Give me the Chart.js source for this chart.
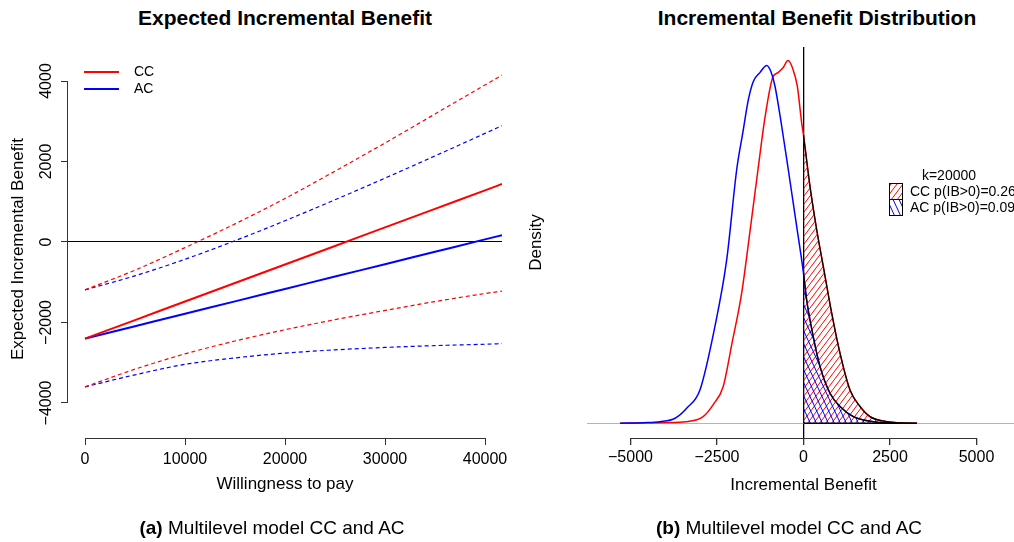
<!DOCTYPE html>
<html>
<head>
<meta charset="utf-8">
<script src="https://cdn.jsdelivr.net/npm/chart.js@4.4.1/dist/chart.umd.min.js"></script>
<style>
  body { margin: 0; width: 1014px; height: 542px; overflow: hidden; background: #fff;
         position: relative; font-family: "Liberation Sans", Arial, Helvetica, sans-serif; }
  canvas { position: absolute; top: 0; }
  #left { left: 0; }
  #right { left: 507px; }
  .title { position: absolute; top: 6px; font-weight: bold; font-size: 21px; white-space: nowrap; transform: translateX(-50%); }
  .cap { position: absolute; top: 517px; font-size: 19px; white-space: nowrap; transform: translateX(-50%); }
</style>
</head>
<body>
<div class="title" style="left:285px">Expected Incremental Benefit</div>
<div class="title" style="left:817px">Incremental Benefit Distribution</div>
<canvas id="left" width="507" height="542"></canvas>
<canvas id="right" width="513" height="542"></canvas>
<div class="cap" style="left:272px"><b>(a)</b> Multilevel model CC and AC</div>
<div class="cap" style="left:789px"><b>(b)</b> Multilevel model CC and AC</div>

<script>
// (a) expected incremental benefit against willingness to pay
const wtp     = [0, 5000, 10000, 15000, 20000, 25000, 30000, 35000, 40000, 41700];
const ccMean  = [-2400, -1940, -1479, -1019, -558, -98, 363, 823, 1284, 1440];
const ccUpper = [-1190, -700, -140, 450, 1080, 1760, 2460, 3180, 3900, 4149];
const ccLower = [-3600, -3160, -2780, -2460, -2180, -1930, -1700, -1480, -1280, -1220];
const acMean  = [-2400, -2092, -1784, -1475, -1167, -859, -551, -243, 65, 170];
const acUpper = [-1190, -840, -429, 32, 528, 1049, 1587, 2138, 2698, 2890];
const acLower = [-3600, -3300, -3040, -2880, -2760, -2680, -2620, -2575, -2540, -2526];
const wtpTicks = [0, 10000, 20000, 30000, 40000];
const eibTicks = [-4000, -2000, 0, 2000, 4000];

// (b) density of the incremental benefit at k = 20000 (density x 1e-4)
const ccIB      = [-5300, -4500, -4000, -3400, -2900, -2600, -2320, -2066, -1786, -1546, -1315, -1113, -890, -737, -592, -448, -303, -179, -52, 0, 188, 381, 572, 815, 1055, 1344, 1633, 1922, 2404, 2800, 3280];
const ccDensity = [0, 0.005, 0.01, 0.02, 0.083, 0.24, 0.46, 1.0, 1.63, 2.40, 3.17, 3.82, 4.32, 4.38, 4.44, 4.53, 4.42, 4.21, 3.75, 3.60, 2.96, 2.42, 1.96, 1.375, 0.875, 0.416, 0.21, 0.083, 0.02, 0.005, 0];
const acIB      = [-5300, -4630, -4150, -3710, -3370, -2990, -2560, -2220, -1930, -1750, -1595, -1450, -1260, -1064, -940, -824, -630, -440, -197, 0, 92, 283, 477, 766, 1055, 1440, 2010, 2590];
const acDensity = [0, 0.008, 0.02, 0.063, 0.19, 0.42, 1.21, 2.04, 3.17, 3.64, 4.04, 4.27, 4.38, 4.47, 4.39, 4.21, 3.71, 3.17, 2.46, 1.875, 1.54, 1.08, 0.71, 0.375, 0.21, 0.083, 0.02, 0];
const ibTicks = [-5000, -2500, 0, 2500, 5000];
const groups = ['CC', 'AC'];
const probPositive = [0.26, 0.09];
const kShown = 20000;

Chart.defaults.font.family = '"Liberation Sans", Arial, Helvetica, sans-serif';
Chart.defaults.color = '#000';

const fmt = v => (v < 0 ? '\u2212' + Math.abs(v) : String(v));
const pts = (xs, ys) => xs.map((x, i) => ({ x: x, y: ys[i] }));
const setTicks = vals => scale => { scale.ticks = vals.map(v => ({ value: v })); };

// hatch pattern, dir 1 = "/", -1 = "\"
function hatch(color, w, h, dir) {
  const c = document.createElement('canvas');
  c.width = w; c.height = h;
  const g = c.getContext('2d');
  g.strokeStyle = color; g.lineWidth = 1;
  for (const dx of [-w, 0, w]) {
    g.beginPath();
    if (dir > 0) { g.moveTo(dx - w, 2 * h); g.lineTo(dx + 2 * w, -h); }
    else { g.moveTo(dx - w, -h); g.lineTo(dx + 2 * w, 2 * h); }
    g.stroke();
  }
  return g.createPattern(c, 'repeat');
}
const redHatch = hatch('#ff0000', 6, 8, 1);
const blueHatch = hatch('#0000ff', 6, 13, -1);

// R style axis line, only between first and last tick
const rAxis = {
  id: 'rAxis',
  afterDraw(chart, args, opts) {
    const ctx = chart.ctx;
    ctx.save();
    ctx.strokeStyle = '#333'; ctx.lineWidth = 1;
    (opts.axes || []).forEach(id => {
      const s = chart.scales[id];
      const a = s.getPixelForValue(s.ticks[0].value);
      const b = s.getPixelForValue(s.ticks[s.ticks.length - 1].value);
      ctx.beginPath();
      if (s.isHorizontal()) { ctx.moveTo(a, Math.round(s.top) + 0.5); ctx.lineTo(b, Math.round(s.top) + 0.5); }
      else { ctx.moveTo(Math.round(s.right) - 0.5, a); ctx.lineTo(Math.round(s.right) - 0.5, b); }
      ctx.stroke();
    });
    ctx.restore();
  }
};

// left chart: vertical tick labels and line legend
const leftExtras = {
  id: 'leftExtras',
  afterDraw(chart) {
    const ctx = chart.ctx;
    const y = chart.scales.y;
    ctx.save();
    ctx.fillStyle = '#000';
    ctx.font = '16px "Liberation Sans", Arial, sans-serif';
    ctx.textAlign = 'center';
    ctx.textBaseline = 'middle';
    y.ticks.forEach(t => {
      ctx.save();
      ctx.translate(46.5, y.getPixelForValue(t.value));
      ctx.rotate(-Math.PI / 2);
      ctx.fillText(fmt(t.value), 0, 0);
      ctx.restore();
    });
    const cols = ['#ff0000', '#0000ff'];
    ctx.font = '14px "Liberation Sans", Arial, sans-serif';
    ctx.textAlign = 'left';
    groups.forEach((g, i) => {
      const ly = 72 + i * 17;
      ctx.strokeStyle = cols[i]; ctx.lineWidth = 2;
      ctx.beginPath(); ctx.moveTo(84, ly); ctx.lineTo(119, ly); ctx.stroke();
      ctx.fillText(g, 134, ly);
    });
    ctx.restore();
  }
};

// right chart: hatched legend
const rightLegend = {
  id: 'rightLegend',
  afterDraw(chart) {
    const ctx = chart.ctx;
    ctx.save();
    ctx.font = '14px "Liberation Sans", Arial, sans-serif';
    ctx.fillStyle = '#000';
    ctx.textBaseline = 'middle';
    ctx.textAlign = 'center';
    ctx.fillText('k=' + kShown, 442, 176);
    ctx.textAlign = 'left';
    [redHatch, blueHatch].forEach((pat, i) => {
      const by = 183 + i * 16;
      ctx.fillStyle = pat; ctx.fillRect(382, by, 14, 16);
      ctx.strokeStyle = '#000'; ctx.lineWidth = 1; ctx.strokeRect(382.5, by + 0.5, 13, 16);
      ctx.fillStyle = '#000';
      ctx.fillText(groups[i] + ' p(IB>0)=' + probPositive[i].toFixed(2), 403, by + 9);
    });
    ctx.restore();
  }
};

const base = {
  responsive: false, animation: false, events: [],
  elements: { point: { radius: 0 }, line: { cubicInterpolationMode: 'monotone', fill: false } },
};

new Chart(document.getElementById('left'), {
  type: 'line',
  data: {
    datasets: [
      { data: pts(wtp, ccMean), borderColor: '#ff0000', borderWidth: 2 },
      { data: pts(wtp, acMean), borderColor: '#0000ff', borderWidth: 2 },
      { data: pts(wtp, ccUpper), borderColor: '#ff0000', borderWidth: 1.2, borderDash: [4, 3] },
      { data: pts(wtp, ccLower), borderColor: '#ff0000', borderWidth: 1.2, borderDash: [4, 3] },
      { data: pts(wtp, acUpper), borderColor: '#0000ff', borderWidth: 1.2, borderDash: [4, 3] },
      { data: pts(wtp, acLower), borderColor: '#0000ff', borderWidth: 1.2, borderDash: [4, 3] }
    ]
  },
  options: Object.assign({}, base, {
    layout: { padding: { top: 60, right: 5, left: 0, bottom: 0 } },
    plugins: { legend: { display: false }, tooltip: { enabled: false }, rAxis: { axes: ['x', 'y'] } },
    scales: {
      x: {
        type: 'linear', min: -1700, max: 41700,
        afterBuildTicks: setTicks(wtpTicks),
        afterFit: s => { s.height = 104; s.paddingLeft = 0; s.paddingRight = 0; },
        grid: { drawOnChartArea: false, tickLength: 7, tickColor: '#333', color: '#333' },
        border: { display: false },
        ticks: { padding: 4.5, font: { size: 16 }, callback: fmt, maxRotation: 0, autoSkip: false },
        title: { display: true, text: 'Willingness to pay', font: { size: 17 }, padding: { top: 0, bottom: 47.5 } }
      },
      y: {
        type: 'linear', min: -4870, max: 4522,
        afterBuildTicks: setTicks(eibTicks),
        afterFit: s => { s.width = 68; s.paddingTop = 0; s.paddingBottom = 0; },
        grid: {
          tickLength: 7, tickColor: '#333',
          color: c => (c.tick && c.tick.value === 0 ? '#000' : 'rgba(0,0,0,0)')
        },
        border: { display: false },
        ticks: { display: false },
        title: { display: true, text: 'Expected Incremental Benefit', font: { size: 17 }, padding: { top: 8.4, bottom: 0 } }
      }
    }
  }),
  plugins: [rAxis, leftExtras]
});

const ccPos = ccIB.map((x, i) => ({ x: x, y: ccDensity[i] })).filter(p => p.x >= 0);
const acPos = acIB.map((x, i) => ({ x: x, y: acDensity[i] })).filter(p => p.x >= 0);

new Chart(document.getElementById('right'), {
  type: 'line',
  data: {
    datasets: [
      { data: [{ x: 0, y: 0 }, { x: ccIB[ccIB.length - 1], y: 0 }], borderColor: '#000', borderWidth: 1.5, order: 0 },
      { data: acPos, borderColor: '#000', borderWidth: 1.2, backgroundColor: blueHatch, fill: 'origin', order: 1 },
      { data: ccPos, borderColor: '#000', borderWidth: 1.2, backgroundColor: redHatch, fill: 'origin', order: 2 },
      { data: pts(acIB, acDensity), borderColor: '#0000ff', borderWidth: 1.5, order: 3 },
      { data: pts(ccIB, ccDensity), borderColor: '#ff0000', borderWidth: 1.5, order: 4 }
    ]
  },
  options: Object.assign({}, base, {
    layout: { padding: { top: 47, right: 0, left: 0, bottom: 0 } },
    plugins: { legend: { display: false }, tooltip: { enabled: false }, rAxis: { axes: ['x'] } },
    scales: {
      x: {
        type: 'linear', min: -6257, max: 6257,
        afterBuildTicks: setTicks(ibTicks),
        afterFit: s => { s.height = 104; s.paddingLeft = 0; s.paddingRight = 0; },
        grid: {
          tickLength: 7, tickColor: '#333',
          color: c => (c.tick && c.tick.value === 0 ? '#000' : 'rgba(0,0,0,0)'),
          lineWidth: 1.3
        },
        border: { display: false },
        ticks: { padding: 3, font: { size: 16 }, callback: fmt, maxRotation: 0, autoSkip: false },
        title: { display: true, text: 'Incremental Benefit', font: { size: 17 }, padding: { top: 0, bottom: 46 } }
      },
      y: {
        type: 'linear', min: -0.184, max: 4.70,
        afterBuildTicks: setTicks([0]),
        afterFit: s => { s.width = 80; s.paddingTop = 0; s.paddingBottom = 0; },
        grid: { drawTicks: false, color: '#b4b4b4' },
        border: { display: false },
        ticks: { display: false },
        title: { display: true, text: 'Density', font: { size: 17 }, padding: { top: 19.3, bottom: 0 } }
      }
    }
  }),
  plugins: [rAxis, rightLegend]
});
</script>
</body>
</html>
